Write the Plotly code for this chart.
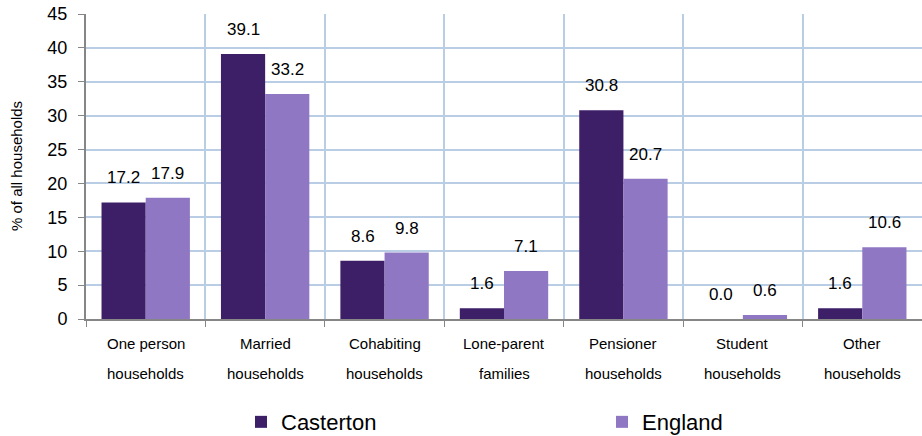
import plotly.graph_objects as go

categories = [
    "One person<br>households", "Married<br>households", "Cohabiting<br>households",
    "Lone-parent<br>families", "Pensioner<br>households", "Student<br>households",
    "Other<br>households",
]
casterton = [17.2, 39.1, 8.6, 1.6, 30.8, 0.0, 1.6]
england = [17.9, 33.2, 9.8, 7.1, 20.7, 0.6, 10.6]

FONT = "Arial, Liberation Sans, sans-serif"
GRID = "#B9CDE5"
AXIS = "#868686"

fig = go.Figure()
fig.add_trace(go.Bar(name="Casterton", x=categories, y=casterton,
                     marker_color="#3D1F68", marker_line_width=0, legend="legend"))
fig.add_trace(go.Bar(name="England", x=categories, y=england,
                     marker_color="#9077C4", marker_line_width=0, legend="legend2"))

# etiquetas de valor encima de cada barra
for cat, c, e in zip(categories, casterton, england):
    for val, shift in ((c, -22), (e, 22)):
        fig.add_annotation(x=cat, y=val, xshift=shift, yshift=13,
                           text=f"{val:.1f}", showarrow=False, yanchor="bottom",
                           font=dict(size=17, color="#000", family=FONT))

# etiquetas de categoria en dos lineas con mas interlineado
for cat in categories:
    for i, line in enumerate(cat.split("<br>")):
        fig.add_annotation(x=cat, y=0, yref="y", yshift=-24 - 30 * i,
                           text=line, showarrow=False, yanchor="middle",
                           font=dict(size=15, color="#000", family=FONT))

# titulo del eje y
fig.add_annotation(x=0, xref="paper", xshift=-80, y=0.5, yref="paper",
                   text="% of all households", textangle=-90, showarrow=False,
                   font=dict(size=15, color="#000", family=FONT))

legend_style = dict(orientation="h", xanchor="left", xref="container", yref="container",
                    y=0.032, yanchor="middle", font=dict(size=22), itemwidth=30)

fig.update_layout(
    width=922, height=436,
    barmode="group", bargap=0.26, bargroupgap=0,
    plot_bgcolor="white", paper_bgcolor="white",
    font=dict(family=FONT, color="#000"),
    margin=dict(l=86, r=0, t=14, b=117),
    showlegend=True,
    legend=dict(x=241 / 922, **legend_style),
    legend2=dict(x=602 / 922, **legend_style),
    xaxis=dict(type="category", tickson="boundaries", showgrid=True, gridcolor=GRID,
               gridwidth=1.5, showline=True, linecolor=AXIS, linewidth=2,
               ticks="outside", ticklen=6, tickcolor=AXIS, showticklabels=False,
               automargin=False),
    yaxis=dict(range=[0, 45], dtick=5, showgrid=True, gridcolor=GRID, gridwidth=1.5,
               showline=True, linecolor=AXIS, linewidth=2, ticks="outside",
               ticklen=6, tickcolor=AXIS, tickfont=dict(size=18),
               ticklabelstandoff=7, automargin=False, zeroline=False),
)

# quitar el margen por defecto del body para que la figura llene la ventana
fig.write_html("out.html", config={"displayModeBar": False},
               post_script="document.body.style.margin='0';")
